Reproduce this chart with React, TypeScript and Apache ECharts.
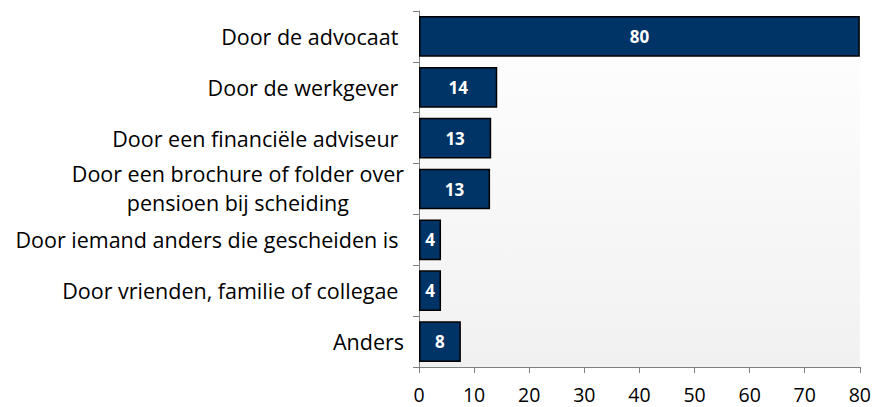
import React, { useEffect, useRef } from "react";
import * as echarts from "echarts";

const categories = [
  "Door de advocaat ",
  "Door de werkgever ",
  "Door een financiële adviseur ",
  "Door een brochure of folder over\npensioen bij scheiding",
  "Door iemand anders die gescheiden is ",
  "Door vrienden, familie of collegae ",
  "Anders",
];
const values = [80, 14.2, 13.1, 12.9, 4, 4, 7.6];
const xTicks = { min: 0, max: 80, interval: 10 };

const FONT = "'Open Sans'";

export default function App() {
  const ref = useRef<HTMLDivElement>(null);
  useEffect(() => {
    document.body.style.margin = "0";
    const chart = echarts.init(ref.current!, null, { renderer: "svg" });
    chart.setOption({
      animation: false,
      grid: {
        left: 419,
        right: 11,
        top: 11,
        bottom: 40,
        show: true,
        borderWidth: 0,
        backgroundColor: new echarts.graphic.LinearGradient(0, 0, 0, 1, [
          { offset: 0, color: "#ffffff" },
          { offset: 1, color: "#f1f1f1" },
        ]),
      },
      xAxis: {
        type: "value",
        min: xTicks.min,
        max: xTicks.max,
        interval: xTicks.interval,
        splitLine: { show: false },
        axisLine: { show: true, lineStyle: { color: "#808080", width: 1 } },
        axisTick: { show: true, length: 6, lineStyle: { color: "#808080" } },
        axisLabel: {
          color: "#000",
          fontFamily: FONT,
          fontSize: 19.5,
          margin: 17,
        },
      },
      yAxis: {
        type: "category",
        inverse: true,
        data: categories,
        axisLine: { show: true, lineStyle: { color: "#808080", width: 1 } },
        axisTick: { show: true, length: 6, lineStyle: { color: "#808080" } },
        axisLabel: {
          color: "#000",
          fontFamily: FONT,
          fontSize: 21.5,
          margin: 15,
          lineHeight: 29,
          formatter: (v: string) =>
            v.includes("\n")
              ? v
                  .split("\n")
                  .map((s) => "{c|" + s + "}")
                  .join("\n")
              : v,
          rich: {
            c: {
              align: "center",
              fontFamily: FONT,
              fontSize: 21.5,
              lineHeight: 29,
              color: "#000",
              padding: [0, 0, 2, 0],
            },
          },
        },
      },
      series: [
        {
          type: "bar",
          data: values,
          barCategoryGap: "20%",
          itemStyle: {
            color: "#003366",
            borderColor: "#000",
            borderWidth: 1.5,
          },
          label: {
            show: true,
            position: "inside",
            color: "#fff",
            fontFamily: FONT,
            fontWeight: "bold",
            fontSize: 17,
            formatter: (p: any) => String(Math.round(p.value)),
          },
        },
      ],
    });
    return () => chart.dispose();
  }, []);
  return <div ref={ref} style={{ width: 874, height: 407 }} />;
}
